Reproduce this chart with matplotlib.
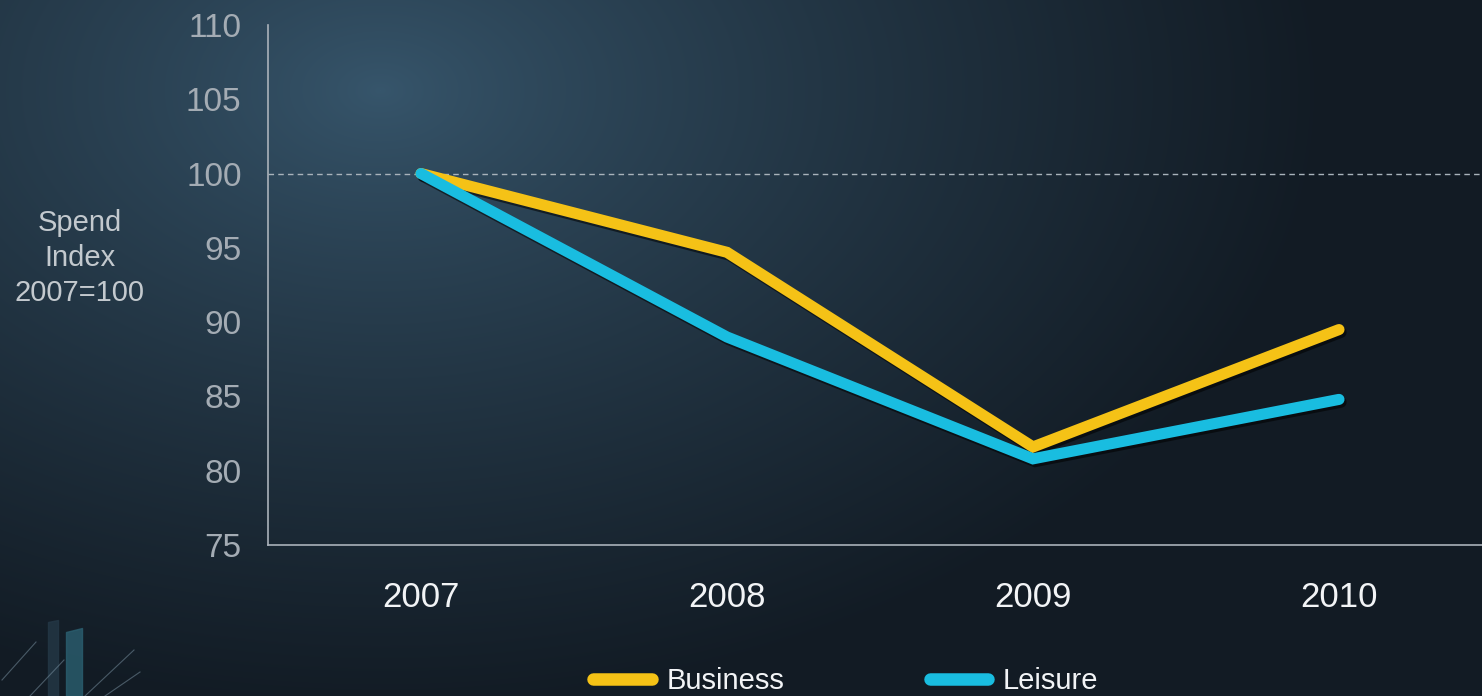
#!/usr/bin/env python3

import numpy as np
import matplotlib
matplotlib.use('Agg')
import matplotlib.pyplot as plt
import matplotlib.patheffects as pe

# data
years = ['2007', '2008', '2009', '2010']
business = [100, 94.7, 81.6, 89.5]
leisure = [100, 89.0, 80.8, 84.8]
y_ticks = [75, 80, 85, 90, 95, 100, 105, 110]

W, H = 1482, 696


def background(fig):
    bg = fig.add_axes([0, 0, 1, 1], zorder=-10)
    yy, xx = np.mgrid[0:H, 0:W]
    d = np.sqrt(((xx - 380) / 950.0) ** 2 + ((yy - 90) / 620.0) ** 2)
    t = np.clip(d, 0, 1) ** 0.8
    c0 = np.array([0x37, 0x56, 0x6c]) / 255.0
    c1 = np.array([0x12, 0x1b, 0x24]) / 255.0
    img = c0[None, None, :] * (1 - t[..., None]) + c1[None, None, :] * t[..., None]
    bg.imshow(img, extent=(0, W, H, 0), aspect='auto')
    # faint decoration in the bottom-left corner
    for (x0, y0, x1, y1) in [(2, 680, 36, 642), (30, 696, 64, 660),
                             (85, 696, 134, 650), (105, 696, 140, 672)]:
        bg.plot([x0, x1], [y0, y1], color='#7f98a8', lw=0.8, alpha=0.5)
    bg.fill_between([66, 82], [632, 628], [696, 696], color='#2b5f70', alpha=0.8)
    bg.fill_between([48, 58], [622, 620], [696, 696], color='#243846', alpha=0.8)
    bg.set_xlim(0, W)
    bg.set_ylim(H, 0)
    bg.axis('off')


def main():
    plt.rcParams['font.family'] = ['Liberation Sans', 'DejaVu Sans']
    fig = plt.figure(figsize=(W / 100, H / 100), dpi=100)
    background(fig)

    ax = fig.add_axes([268 / W, 1 - 545 / H, 1 - 268 / W, (545 - 25) / H])
    ax.patch.set_alpha(0)
    x = np.arange(len(years))

    shadow = [pe.SimpleLineShadow(offset=(1.5, -2), shadow_color='black', alpha=0.55),
              pe.Normal()]
    ax.plot(x, business, color='#f5c216', lw=8, solid_capstyle='round',
            solid_joinstyle='miter', label='Business', path_effects=shadow, zorder=3)
    ax.plot(x, leisure, color='#19bde0', lw=8, solid_capstyle='round',
            solid_joinstyle='miter', label='Leisure', path_effects=shadow, zorder=4)

    ax.axhline(100, color='#a9b3bb', lw=1, ls=(0, (4, 3)), zorder=1)

    ax.set_xlim(-0.5, -0.5 + (W - 268) / 306)
    ax.set_ylim(75, 110)
    ax.set_xticks(x)
    ax.set_xticklabels(years)
    ax.set_yticks(y_ticks)
    ax.tick_params(axis='y', length=0, pad=19, labelsize=24, labelcolor='#a4acb4')
    ax.tick_params(axis='x', length=0, pad=26, labelsize=25, labelcolor='#f2f4f6')
    for s in ['top', 'right']:
        ax.spines[s].set_visible(False)
    for s in ['left', 'bottom']:
        ax.spines[s].set_color('#aab2ba')
        ax.spines[s].set_linewidth(1.2)

    fig.text(80 / W, 1 - 258 / H, 'Spend\nIndex\n2007=100', ha='center', va='center',
             fontsize=21, color='#c3c9ce', linespacing=1.3)

    leg = fig.legend(loc='center', bbox_to_anchor=(846 / W, 1 - 681 / H), ncol=2,
                     frameon=False, fontsize=21, handlelength=2.0, handletextpad=0.5,
                     columnspacing=5.0, borderpad=0)
    for t in leg.get_texts():
        t.set_color('#f2f4f6')
    for h in leg.get_lines():
        h.set_linewidth(9)
        h.set_solid_capstyle('round')
        h.set_path_effects([])

    fig.savefig('out.png', dpi=100)


if __name__ == '__main__':
    main()
